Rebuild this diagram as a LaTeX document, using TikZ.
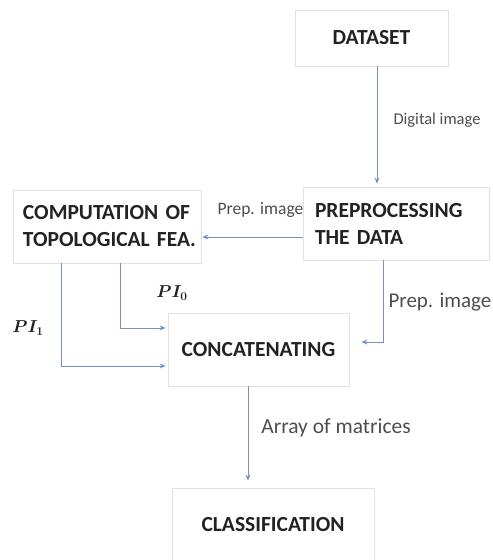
\documentclass[tikz,border=0pt]{standalone}
\usepackage{fontspec}
\setmainfont{Carlito}
\usetikzlibrary{arrows.meta}
\definecolor{boxline}{HTML}{E2E2E2}
\definecolor{arrcol}{HTML}{7591C2}
\definecolor{txt}{HTML}{222222}
\tikzset{
  box/.style={draw=boxline, line width=0.8pt, fill=white, inner sep=0pt, text=txt, font=\bfseries\fontsize{21.5}{27}\selectfont},
  arr/.style={draw=arrcol, line width=1pt, -{Stealth[length=6pt,width=5pt]}},
  lbl/.style={text=txt!80, inner sep=0pt},
  mlbl/.style={text=txt, inner sep=0pt, font=\fontsize{17}{19}\selectfont\boldmath},
}
\begin{document}
\begin{tikzpicture}[x=1pt,y=-1pt]
\useasboundingbox (0,0) rectangle (493,560);
\fill[white] (0,0) rectangle (493,560);
\node[box, minimum width=153pt, minimum height=56pt] (ds) at (371.5,38) {DATASET};
\node[box, minimum width=186pt, minimum height=73pt, text width=162pt, align=left] (prep) at (396,223.5) {\mbox{PREPROCESSING}\\\mbox{THE DATA}};
\node[box, minimum width=188pt, minimum height=73pt, text width=168pt, align=left] (comp) at (107,226.5) {\mbox{COMPUTATION OF}\\\mbox{TOPOLOGICAL FEA.}};
\node[box, minimum width=181pt, minimum height=73pt] (cat) at (258.5,349.5) {CONCATENATING};
\node[box, minimum width=202pt, minimum height=73pt] (cls) at (273,524.5) {CLASSIFICATION};

\draw[arr, shorten >=3pt] ([xshift=5.5pt]ds.south) -- ([xshift=5.5pt]ds.south |- prep.north);
\draw[arr, shorten >=1pt] ([yshift=-13.5pt]prep.west) -- ([yshift=-13.5pt]prep.west -| comp.east);
\draw[arr, shorten >=2pt] ([xshift=-46pt]comp.south) |- ([yshift=-16.5pt]cat.west);
\draw[arr, shorten >=2pt] ([xshift=13pt]comp.south) |- ([yshift=21.5pt]cat.west);
\draw[arr, shorten >=12pt] ([xshift=-13pt]prep.south) |- ([yshift=7.5pt]cat.east);
\draw[arr, shorten >=7pt] ([xshift=-10.5pt]cat.south) -- ([xshift=-10.5pt]cat.south |- cls.north);

\node[lbl, font=\fontsize{16.5}{18}\selectfont] (la) at (437,120) {Digital image};
\node[lbl, font=\fontsize{17.5}{19}\selectfont] (lb) at (260.5,210) {Prep. image};
\node[lbl, font=\fontsize{21}{23}\selectfont] (lc) at (440,302) {Prep. image};
\node[lbl, font=\fontsize{21.5}{23}\selectfont] (ld) at (336,428) {Array of matrices};
\node[mlbl] (le) at (172,293) {$PI_0$};
\node[mlbl] (lf) at (28,328) {$PI_1$};
\end{tikzpicture}
\end{document}
